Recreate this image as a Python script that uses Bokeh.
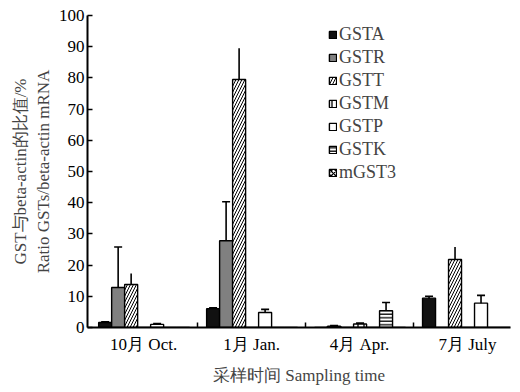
from bokeh.plotting import figure
from bokeh.models import ColumnDataSource, Range1d, FixedTicker, Whisker, TeeHead, Legend, LegendItem
from bokeh.embed import file_html
from bokeh.resources import INLINE

# ---- data ----
months = ["10月 Oct.", "1月 Jan.", "4月 Apr.", "7月 July"]
genes = ["GSTA", "GSTR", "GSTT", "GSTM", "GSTP", "GSTK", "mGST3"]
GSTA = [1.6, 6.0, 0.0, 9.4]
GSTA_err = [0.2, 0.3, 0.0, 0.6]
GSTR = [12.8, 27.8, 0.4, 0.0]
GSTR_err = [13.0, 12.5, 0.2, 0.0]
GSTT = [13.8, 79.5, 0.0, 21.8]
GSTT_err = [3.5, 10.0, 0.0, 4.0]
GSTM = [0.0, 0.0, 1.1, 0.0]
GSTM_err = [0.0, 0.0, 0.3, 0.0]
GSTP = [1.0, 4.8, 0.0, 7.8]
GSTP_err = [0.3, 1.0, 0.0, 2.5]
GSTK = [0.0, 0.0, 5.4, 0.0]
GSTK_err = [0.0, 0.0, 2.6, 0.0]
mGST3 = [0.0, 0.0, 0.0, 0.0]
mGST3_err = [0.0, 0.0, 0.0, 0.0]
y_ticks = list(range(0, 101, 10))

values = [GSTA, GSTR, GSTT, GSTM, GSTP, GSTK, mGST3]
errors = [GSTA_err, GSTR_err, GSTT_err, GSTM_err, GSTP_err, GSTK_err, mGST3_err]

# ---- styles ----
FONT = "Liberation Serif"
FS = "17px"
group_px = 108.0
pad_px = 9.0
bar_px = 13.0
bar_w = bar_px / group_px

styles = [
    dict(fill_color="#111111"),
    dict(fill_color="#808080"),
    dict(fill_color="white", hatch_pattern="/", hatch_scale=6, hatch_weight=1.0, hatch_color="black"),
    dict(fill_color="white", hatch_pattern="|", hatch_scale=6, hatch_weight=1.3, hatch_color="black"),
    dict(fill_color="white"),
    dict(fill_color="white", hatch_pattern="-", hatch_scale=3.5, hatch_weight=1.3, hatch_color="black"),
    dict(fill_color="white", hatch_pattern="x", hatch_scale=5, hatch_weight=1.3, hatch_color="black"),
]

p = figure(width=512, height=387, output_backend="svg", toolbar_location=None,
           x_range=Range1d(-0.02, 3.898), y_range=Range1d(0, 100),
           min_border_left=87, min_border_right=2, min_border_top=15, min_border_bottom=60)
p.outline_line_color = None
p.grid.visible = False
p.background_fill_color = "white"

renderers = []
for j, g in enumerate(genes):
    off = (pad_px + bar_px * j + bar_px / 2) / group_px
    xs = [i + off for i in range(len(months))]
    src = ColumnDataSource(dict(x=xs, top=values[j]))
    r = p.vbar(x="x", top="top", width=bar_w, source=src,
               line_color="black", line_width=1.4, **styles[j])
    renderers.append(r)
    ex = [x for x, e in zip(xs, errors[j]) if e > 0]
    ev = [v for v, e in zip(values[j], errors[j]) if e > 0]
    ee = [e for e in errors[j] if e > 0]
    if ex:
        esrc = ColumnDataSource(dict(x=ex, up=[v + e for v, e in zip(ev, ee)],
                                     lo=[v - e for v, e in zip(ev, ee)]))
        if g == "GSTT":
            w = Whisker(base="x", upper="up", lower="lo", source=esrc, dimension="height",
                        line_color="black", line_width=1.6, upper_head=None, lower_head=None)
        else:
            w = Whisker(base="x", upper="up", lower="lo", source=esrc, dimension="height",
                        line_color="black", line_width=1.6,
                        upper_head=TeeHead(size=8, line_color="black", line_width=1.6),
                        lower_head=TeeHead(size=8, line_color="black", line_width=1.6))
        p.add_layout(w)

# axes
xa = p.xaxis[0]
xa.ticker = FixedTicker(ticks=[i + 0.5 for i in range(len(months))], minor_ticks=[1, 2, 3])
xa.major_label_overrides = {i + 0.5: m for i, m in enumerate(months)}
xa.major_tick_line_color = None
xa.minor_tick_in = 5
xa.minor_tick_out = 0
xa.minor_tick_line_width = 1.5
xa.minor_tick_line_color = "black"
xa.axis_line_width = 2
xa.axis_line_color = "black"
xa.major_label_text_font = FONT
xa.major_label_text_font_size = FS
xa.major_label_text_color = "black"
xa.major_label_standoff = 1
xa.axis_label = "采样时间 Sampling time"
xa.axis_label_text_font = FONT
xa.axis_label_text_font_size = FS
xa.axis_label_text_font_style = "normal"
xa.axis_label_standoff = 9

ya = p.yaxis[0]
ya.ticker = FixedTicker(ticks=y_ticks)
ya.major_tick_in = 5
ya.major_tick_out = 0
ya.major_tick_line_width = 1.5
ya.minor_tick_line_color = None
ya.axis_line_width = 2
ya.axis_line_color = "black"
ya.major_label_text_font = FONT
ya.major_label_text_font_size = FS
ya.major_label_text_color = "black"
ya.major_label_standoff = 3
ya.axis_label = "GST与beta-actin的比值/%\nRatio GSTs/beta-actin mRNA"
ya.axis_label_text_font = FONT
ya.axis_label_text_font_size = FS
ya.axis_label_text_font_style = "normal"
ya.axis_label_standoff = 3

legend = Legend(items=[LegendItem(label=g, renderers=[r]) for g, r in zip(genes, renderers)],
                location=(241, 143), orientation="vertical",
                label_text_font=FONT, label_text_font_size="18px",
                label_height=23, glyph_height=9, glyph_width=9, spacing=0,
                padding=0, margin=0, label_standoff=2,
                border_line_color=None, background_fill_alpha=0)
p.add_layout(legend)

open("out.html", "w").write(file_html(p, INLINE))
